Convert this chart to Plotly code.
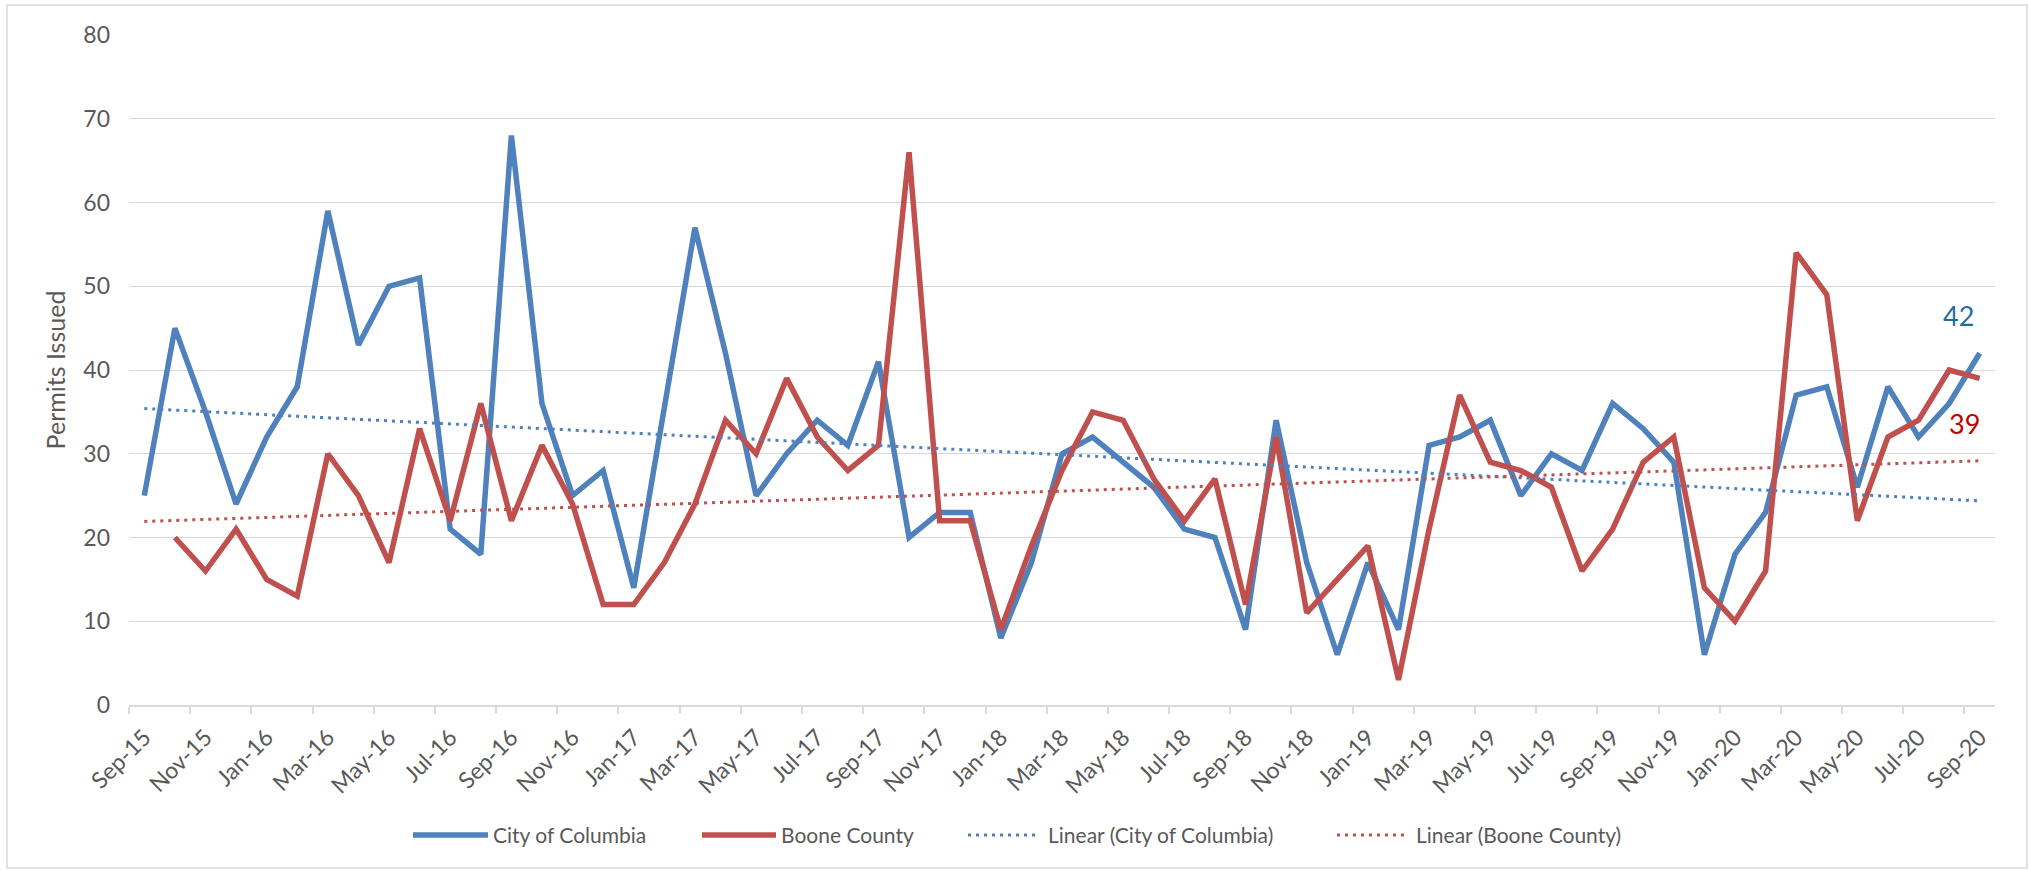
import numpy as np
import plotly.graph_objects as go

months = ["Sep-15", "Oct-15", "Nov-15", "Dec-15",
          "Jan-16", "Feb-16", "Mar-16", "Apr-16", "May-16", "Jun-16", "Jul-16", "Aug-16", "Sep-16", "Oct-16", "Nov-16", "Dec-16",
          "Jan-17", "Feb-17", "Mar-17", "Apr-17", "May-17", "Jun-17", "Jul-17", "Aug-17", "Sep-17", "Oct-17", "Nov-17", "Dec-17",
          "Jan-18", "Feb-18", "Mar-18", "Apr-18", "May-18", "Jun-18", "Jul-18", "Aug-18", "Sep-18", "Oct-18", "Nov-18", "Dec-18",
          "Jan-19", "Feb-19", "Mar-19", "Apr-19", "May-19", "Jun-19", "Jul-19", "Aug-19", "Sep-19", "Oct-19", "Nov-19", "Dec-19",
          "Jan-20", "Feb-20", "Mar-20", "Apr-20", "May-20", "Jun-20", "Jul-20", "Aug-20", "Sep-20"]

city = [25, 45, 35, 24,
        32, 38, 59, 43, 50, 51, 21, 18, 68, 36, 25, 28,
        14, 36, 57, 42, 25, 30, 34, 31, 41, 20, 23, 23,
        8, 17, 30, 32, 29, 26, 21, 20, 9, 34, 17, 6,
        17, 9, 31, 32, 34, 25, 30, 28, 36, 33, 29, 6,
        18, 23, 37, 38, 26, 38, 32, 36, 42]

boone = [None, 20, 16, 21,
         15, 13, 30, 25, 17, 33, 22, 36, 22, 31, 24, 12,
         12, 17, 24, 34, 30, 39, 32, 28, 31, 66, 22, 22,
         9, 19, 28, 35, 34, 27, 22, 27, 12, 32, 11, 15,
         19, 3, 21, 37, 29, 28, 26, 16, 21, 29, 32, 14,
         10, 16, 54, 49, 22, 32, 34, 40, 39]

series_names = ["City of Columbia", "Boone County", "Linear (City of Columbia)", "Linear (Boone County)"]
y_title = "Permits Issued"
BLUE = "#4F81BD"
RED = "#C0504D"
TXT = "#595959"
GRID = "#D9D9D9"
FONT = "Lato"
LW = 5.5
DOT = "3px,5px"

x = np.arange(len(months))


def trend(vals):
    xs = np.array([i for i, v in enumerate(vals) if v is not None], dtype=float)
    ys = np.array([v for v in vals if v is not None], dtype=float)
    m, b = np.polyfit(xs, ys, 1)
    return m * x + b


fig = go.Figure()
fig.add_trace(go.Scatter(x=x, y=city, mode="lines", name=series_names[0],
                         line=dict(color=BLUE, width=LW), connectgaps=False))
fig.add_trace(go.Scatter(x=x, y=boone, mode="lines", name=series_names[1],
                         line=dict(color=RED, width=LW), connectgaps=False))
fig.add_trace(go.Scatter(x=x, y=trend(city), mode="lines", name=series_names[2],
                         line=dict(color=BLUE, width=3, dash=DOT)))
fig.add_trace(go.Scatter(x=x, y=trend(boone), mode="lines", name=series_names[3],
                         line=dict(color=RED, width=3, dash=DOT)))

L, R, T, B = 129, 35, 35, 166
W, H = 2030, 871
pw, ph = W - L - R, H - T - B


def px(xp):
    return (xp - L) / pw


def py(yp):
    return (H - B - yp) / ph


# last-point value labels
fig.add_annotation(x=x[-1], y=city[-1], text=str(city[-1]), showarrow=False,
                   xshift=-21, yshift=38, font=dict(family=FONT, size=27, color="#1F6FA5"))
fig.add_annotation(x=x[-1], y=boone[-1], text=str(boone[-1]), showarrow=False,
                   xshift=-15, yshift=-45, font=dict(family=FONT, size=27, color="#C00000"))

# manual legend
leg_y = py(835)
leg_items = [
    (413, 488, 491, series_names[0], BLUE, None, LW),
    (702, 776, 779, series_names[1], RED, None, LW),
    (968, 1038, 1046, series_names[2], BLUE, DOT, 3),
    (1337, 1405, 1414, series_names[3], RED, DOT, 3),
]
shapes = []
for x0, x1, tx, name, col, dash, w in leg_items:
    shapes.append(dict(type="line", xref="paper", yref="paper", x0=px(x0), x1=px(x1), y0=leg_y, y1=leg_y,
                       line=dict(color=col, width=w, dash=dash) if dash else dict(color=col, width=w)))
    fig.add_annotation(xref="paper", yref="paper", x=px(tx), y=leg_y, text=name, showarrow=False,
                       xanchor="left", yanchor="middle", font=dict(family=FONT, size=21, color=TXT))

# chart border
shapes.append(dict(type="rect", xref="paper", yref="paper", x0=px(7), x1=px(2027), y0=py(868), y1=py(5),
                   line=dict(color=GRID, width=1.5), fillcolor="rgba(0,0,0,0)", layer="below"))

tickvals = list(x[::2])
ticktext = months[::2]
fig.update_layout(
    width=W, height=H,
    margin=dict(l=L, r=R, t=T, b=B),
    paper_bgcolor="white", plot_bgcolor="white",
    showlegend=False,
    shapes=shapes,
    font=dict(family=FONT, color=TXT),
    xaxis=dict(range=[-0.5, len(months) - 0.5], tickmode="array", tickvals=tickvals, ticktext=ticktext,
               tickangle=-45, ticks="", showgrid=False, zeroline=False,
               showline=True, linecolor=GRID, linewidth=1.5,
               tickfont=dict(family=FONT, size=23, color=TXT),
               ticklabelstandoff=8,
               minor=dict(tickvals=[v - 0.5 for v in tickvals], ticks="outside", ticklen=7,
                          tickcolor=GRID, tickwidth=1.5, showgrid=False)),
    yaxis=dict(range=[0, 80], dtick=10, showgrid=True, gridcolor=GRID, gridwidth=1.3,
               zeroline=False, ticks="", tickfont=dict(family=FONT, size=23, color=TXT),
               ticklabelstandoff=18,
               title=dict(text=y_title, standoff=10, font=dict(family=FONT, size=25, color=TXT))),
)

fig.write_html("out.html", config={"displayModeBar": False},
               post_script="document.body.style.margin='0';document.body.style.overflow='hidden';")
